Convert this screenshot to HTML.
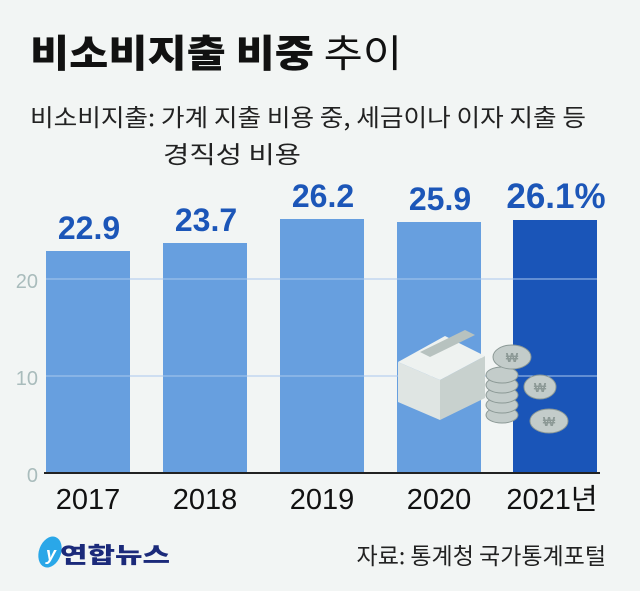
<!DOCTYPE html>
<html><head><meta charset="utf-8"><style>
body{margin:0;width:640px;height:591px;background:#f2f5f4;overflow:hidden;font-family:"Liberation Sans","Noto Sans CJK KR",sans-serif;}
</style></head><body>
<svg width="640" height="591" xmlns="http://www.w3.org/2000/svg" style="position:absolute;left:0;top:0">
<rect width="640" height="591" fill="#f2f5f4"/>
<text x="30" y="67" font-family="'Noto Sans CJK KR',sans-serif" font-size="38" font-weight="900" fill="#111" textLength="372" lengthAdjust="spacingAndGlyphs">비소비지출 비중 <tspan font-weight="400">추이</tspan></text>
<text x="30" y="126" font-family="'Noto Sans CJK KR',sans-serif" font-size="24" fill="#222" textLength="556" lengthAdjust="spacingAndGlyphs">비소비지출: 가계 지출 비용 중, 세금이나 이자 지출 등</text>
<text x="163" y="163" font-family="'Noto Sans CJK KR',sans-serif" font-size="24" fill="#222" textLength="138" lengthAdjust="spacingAndGlyphs">경직성 비용</text>
<g fill="#679fdf">
<rect x="46" y="251" width="84" height="222"/>
<rect x="163" y="243" width="84" height="230"/>
<rect x="280" y="219" width="84" height="254"/>
<rect x="397" y="222" width="84" height="251"/>
</g>
<rect x="513" y="220" width="84" height="253" fill="#1a55b8"/>
<g stroke="#a9c8ee" stroke-width="1">
<line x1="46" y1="279" x2="597" y2="279"/>
<line x1="46" y1="376" x2="597" y2="376"/>
</g>
<line x1="44" y1="473" x2="600" y2="473" stroke="#222" stroke-width="2"/>
<g font-size="20" fill="#a9bcbc" text-anchor="end">
<text x="38" y="288">20</text><text x="38" y="385">10</text><text x="38" y="482">0</text>
</g>
<g font-size="32" font-weight="bold" fill="#1c56b8" text-anchor="middle">
<text x="89" y="239">22.9</text><text x="206" y="231">23.7</text><text x="323" y="207">26.2</text><text x="440" y="210">25.9</text><text x="556" y="208" font-size="35">26.1%</text>
</g>
<g font-size="29" fill="#111" text-anchor="middle">
<text x="88" y="509">2017</text><text x="205" y="509">2018</text><text x="322" y="509">2019</text><text x="439" y="509">2020</text><text x="552" y="509">2021<tspan font-family="'Noto Sans CJK KR',sans-serif">년</tspan></text>
</g>
<!-- money illustration -->
<polygon points="400,392 450,410 480,395 430,377" fill="#3b6fb8"/>
<polygon points="398,362 440,380 440,420 398,402" fill="#dfe5e3"/>
<polygon points="440,380 485,356 485,398 440,420" fill="#c8d1ce"/>
<polygon points="398,362 440,380 485,356 445,336" fill="#eef2f0"/>
<polygon points="420,352 430,357 475,335 465,330" fill="#b7c2bf"/>
<g fill="#c3ccca" stroke="#8c9996" stroke-width="1">
<ellipse cx="502" cy="415" rx="16" ry="8"/><ellipse cx="502" cy="405" rx="16" ry="8"/><ellipse cx="502" cy="395" rx="16" ry="8"/><ellipse cx="502" cy="385" rx="16" ry="8"/><ellipse cx="502" cy="375" rx="16" ry="8"/><ellipse cx="512" cy="357" rx="19" ry="12"/>
<ellipse cx="540" cy="387" rx="16" ry="12"/><ellipse cx="549" cy="421" rx="19" ry="12"/>
</g>
<g font-size="13" font-weight="bold" fill="#8c9996" text-anchor="middle"><text x="512" y="362">₩</text><text x="540" y="392">₩</text><text x="549" y="426">₩</text></g>
<!-- logo -->
<ellipse cx="50" cy="552" rx="11" ry="16" fill="#2aa7e8" transform="rotate(20 50 552)"/>
<text x="46" y="560" font-size="18" font-style="italic" font-weight="bold" fill="#fff">y</text>
<text x="60" y="563" font-family="'Noto Sans CJK KR',sans-serif" font-size="22" font-weight="900" fill="#1b2a7a" textLength="110" lengthAdjust="spacingAndGlyphs">연합뉴스</text>
<text x="606" y="564" text-anchor="end" font-family="'Noto Sans CJK KR',sans-serif" font-size="23" fill="#222">자료: 통계청 국가통계포털</text>
</svg>
</body></html>
